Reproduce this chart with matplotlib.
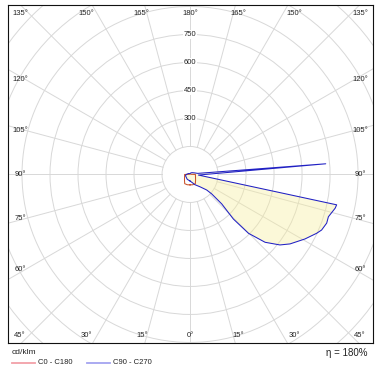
import numpy as np
import matplotlib
matplotlib.use('Agg')
import matplotlib.pyplot as plt
from matplotlib.patches import Circle, Polygon
from matplotlib.lines import Line2D

plt.rcParams['font.family'] = ['Liberation Sans', 'DejaVu Sans']

# ---- data (cd/klm vs gamma angle in degrees) ----
c90_gamma = [0, 15, 25, 39, 47, 48.1, 47.1, 44.2, 44.8, 47.9, 51.9, 55.2, 60.7, 65.1,
             67.1, 70.4, 73, 76.9, 78.3, 86, 94.5, 98, 110, 130, 150, 180]
c90_cd = [35, 45, 60, 85, 122, 156, 232, 333, 444, 542, 612, 652, 706, 748,
          765, 777, 775, 798, 802, 45, 729, 42, 25, 15, 10, 5]
c270_gamma = [0, 30, 60, 76, 90, 120, 150, 180]
c270_cd = [35, 30, 25, 25, 20, 10, 5, 5]
c0_gamma = [0, 15, 30, 45, 60, 75, 90, 100, 180]
c0_cd = [56, 57, 57, 42, 34, 30, 29, 5, 3]
c180_gamma = [0, 15, 30, 45, 60, 75, 90, 100, 180]
c180_cd = [56, 57, 57, 42, 34, 30, 29, 5, 3]

ring_values = [300, 450, 600, 750]
angle_ticks = [0, 15, 30, 45, 60, 75, 90, 105, 120, 135, 150, 165, 180]
unit_label = 'cd/klm'
legend_labels = ['C0 - C180', 'C90 - C270']
efficiency_label = '\u03b7 = 180%'

# ---- figure ----
W, H = 383, 375
fig = plt.figure(figsize=(W / 100, H / 100), dpi=100)
ax = fig.add_axes([8 / W, 32 / H, 365 / W, 338 / H])
ax.set_xlim(-975, 980)
ax.set_ylim(-903, 908)
ax.set_xticks([])
ax.set_yticks([])
for s in ax.spines.values():
    s.set_linewidth(0.8)
    s.set_color('#111111')

grid_c = '#d8d8d8'
for r in range(150, 1500, 150):
    ax.add_patch(Circle((0, 0), r, fill=False, ec=grid_c, lw=0.7, zorder=1))
for a in range(0, 360, 15):
    t = np.deg2rad(a)
    ax.plot([150 * np.sin(t), 1500 * np.sin(t)], [-150 * np.cos(t), -1500 * np.cos(t)],
            color=grid_c, lw=0.7, zorder=1)


def to_xy(gamma, cd, side):
    g = np.deg2rad(np.asarray(gamma, float))
    v = np.asarray(cd, float)
    return side * v * np.sin(g), -v * np.cos(g)


# C90 - C270 curve (closed)
x90, y90 = to_xy(c90_gamma, c90_cd, 1)
x270, y270 = to_xy(c270_gamma[::-1], c270_cd[::-1], -1)
bx = np.concatenate([x90, x270])
by = np.concatenate([y90, y270])
ax.add_patch(Polygon(np.column_stack([bx, by]), closed=True, fc='#f7ee9a', alpha=0.38,
                     ec='none', zorder=2))
ax.plot(np.append(bx, bx[0]), np.append(by, by[0]), color='#2020c4', lw=0.75, zorder=4)

# C0 - C180 curve
x0, y0 = to_xy(c0_gamma, c0_cd, 1)
x180, y180 = to_xy(c180_gamma[::-1], c180_cd[::-1], -1)
rx = np.concatenate([x0, x180])
ry = np.concatenate([y0, y180])
ax.plot(rx, ry, color='#c8502a', lw=0.75, zorder=3)

fs = 5.5
# ring labels
for v in ring_values:
    ax.text(0, v, str(v), ha='center', va='center', fontsize=fs, color='#222222', zorder=5,
            bbox=dict(boxstyle='square,pad=0.1', fc='white', ec='none'))

# angle labels
XS, YT, XT, YS = 911, 862, 964, 884
for a in angle_ticks:
    lbl = f'{a}\u00b0'
    if a <= 45 or a >= 135:
        phi = a if a <= 45 else 180 - a
        y = -YT if a <= 45 else YT
        x = min(XT * np.tan(np.deg2rad(phi)), XS)
        for sx in ([1, -1] if phi > 0 else [1]):
            ax.text(sx * x, y, lbl, ha='center', va='center', fontsize=fs,
                    color='#222222', zorder=5)
    else:
        psi = a - 90
        y = YS * np.tan(np.deg2rad(psi))
        for sx in [1, -1]:
            ax.text(sx * XS, y, lbl, ha='center', va='center', fontsize=fs,
                    color='#222222', zorder=5)

# footer
fig.text(12 / W, 1 - 353 / H, unit_label, ha='left', va='center', fontsize=6, color='#222222')
fig.text(367 / W, 1 - 353 / H, efficiency_label, ha='right', va='center', fontsize=7,
         color='#222222')
legend_cols = ['#f2a0a8', '#a4a4f0']
legend_x = [12, 87]
for lab, col, lx in zip(legend_labels, legend_cols, legend_x):
    fig.add_artist(Line2D([lx / W, (lx + 23) / W], [1 - 363 / H, 1 - 363 / H], color=col, lw=1.3))
    fig.text((lx + 26) / W, 1 - 363 / H, lab, ha='left', va='center', fontsize=fs, color='#222222')

fig.savefig('out.png', dpi=100)
